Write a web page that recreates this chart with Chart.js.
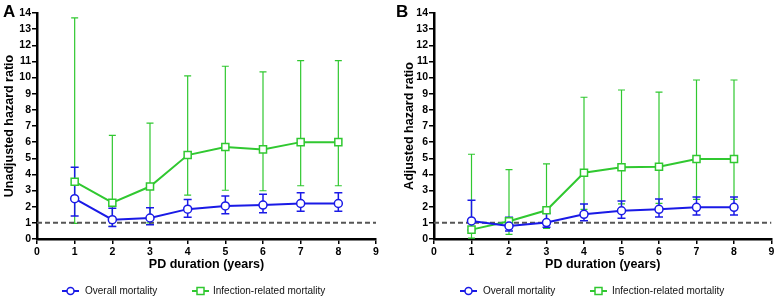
<!DOCTYPE html>
<html><head><meta charset="utf-8">
<script src="https://cdn.jsdelivr.net/npm/chart.js@4.4.1/dist/chart.umd.min.js"></script>
<style>
html,body{margin:0;padding:0;background:#fff;}
body{width:778px;height:298px;position:relative;overflow:hidden;font-family:"Liberation Sans",Arial,sans-serif;}
.panel{position:absolute;top:0;width:389px;height:298px;}
#pa{left:0;}
#pb{left:389px;}
.letter{position:absolute;top:3px;font-weight:bold;font-size:17px;line-height:17px;color:#000;}
.leg{position:absolute;top:285px;font-size:10px;line-height:12px;white-space:nowrap;color:#111;}
.sym{position:absolute;top:286px;}
</style></head>
<body>
<div class="panel"><canvas id="ca" width="389" height="298"></canvas></div>
<div class="panel" id="pb"><canvas id="cb" width="389" height="298"></canvas></div>
<div class="letter" style="left:3px">A</div>
<div class="letter" style="left:396px">B</div>

<svg class="sym" style="left:62px" width="17" height="10"><line x1="0" y1="5" x2="17" y2="5" stroke="#1a1ae6" stroke-width="2"/><circle cx="8.5" cy="5" r="3.5" fill="#fff" stroke="#1a1ae6" stroke-width="1.5"/></svg>
<div class="leg" style="left:85px">Overall mortality</div>
<svg class="sym" style="left:192px" width="17" height="10"><line x1="0" y1="5" x2="17" y2="5" stroke="#30c830" stroke-width="2"/><rect x="5" y="1.5" width="7" height="7" fill="#fff" stroke="#30c830" stroke-width="1.5"/></svg>
<div class="leg" style="left:213px">Infection-related mortality</div>

<svg class="sym" style="left:460px" width="17" height="10"><line x1="0" y1="5" x2="17" y2="5" stroke="#1a1ae6" stroke-width="2"/><circle cx="8.5" cy="5" r="3.5" fill="#fff" stroke="#1a1ae6" stroke-width="1.5"/></svg>
<div class="leg" style="left:483px">Overall mortality</div>
<svg class="sym" style="left:590px" width="17" height="10"><line x1="0" y1="5" x2="17" y2="5" stroke="#30c830" stroke-width="2"/><rect x="5" y="1.5" width="7" height="7" fill="#fff" stroke="#30c830" stroke-width="1.5"/></svg>
<div class="leg" style="left:612px">Infection-related mortality</div>

<script>
// ---- data ----
const years = [1, 2, 3, 4, 5, 6, 7, 8];
const referenceHR = 1;

// Panel A: unadjusted
const overallA    = [2.5, 1.2, 1.3, 1.85, 2.05, 2.1, 2.2, 2.2];
const overallALo  = [1.42, 0.78, 0.88, 1.35, 1.57, 1.63, 1.72, 1.72];
const overallAHi  = [4.45, 1.9, 1.94, 2.45, 2.66, 2.77, 2.87, 2.87];
const infectA     = [3.55, 2.25, 3.25, 5.2, 5.7, 5.55, 6.0, 6.0];
const infectALo   = [0.97, 0.78, 1.0, 2.72, 3.02, 2.99, 3.3, 3.3];
const infectAHi   = [13.7, 6.42, 7.18, 10.1, 10.7, 10.35, 11.05, 11.05];

// Panel B: adjusted
const overallB    = [1.12, 0.8, 1.02, 1.53, 1.75, 1.84, 1.96, 1.96];
const overallBLo  = [0.55, 0.5, 0.73, 1.13, 1.28, 1.36, 1.49, 1.49];
const overallBHi  = [2.4, 1.35, 1.6, 2.17, 2.35, 2.48, 2.6, 2.6];
const infectB     = [0.58, 1.1, 1.78, 4.1, 4.44, 4.48, 4.96, 4.96];
const infectBLo   = [0.05, 0.29, 0.66, 1.84, 2.17, 2.21, 2.46, 2.46];
const infectBHi   = [5.25, 4.3, 4.65, 8.78, 9.23, 9.1, 9.85, 9.85];

const xMin = 0, xMax = 9, yMin = 0, yMax = 14;

const BLUE = '#1a1ae6';
const GREEN = '#30c830';
const FONT = 'Liberation Sans';

const errorBars = {
  id: 'errorBars',
  beforeDatasetsDraw(chart) {
    const ctx = chart.ctx;
    const xs = chart.scales.x, ys = chart.scales.y;
    const order = chart.data.datasets.map((d, i) => i).reverse();
    ctx.save();
    for (const i of order) {
      const ds = chart.data.datasets[i];
      if (!ds.errLo) continue;
      ctx.strokeStyle = ds.borderColor;
      ctx.lineWidth = ds.errWidth;
      ds.data.forEach((p, k) => {
        const px = xs.getPixelForValue(p.x);
        const lo = ys.getPixelForValue(ds.errLo[k]);
        const hi = ys.getPixelForValue(ds.errHi[k]);
        ctx.beginPath();
        ctx.moveTo(px, lo); ctx.lineTo(px, hi);
        ctx.moveTo(px - ds.capHalf, lo); ctx.lineTo(px + ds.capHalf, lo);
        ctx.moveTo(px - ds.capHalf, hi); ctx.lineTo(px + ds.capHalf, hi);
        ctx.stroke();
      });
    }
    ctx.restore();
  }
};

function pts(vals) { return years.map((x, i) => ({ x: x, y: vals[i] })); }

function makePanel(id, yTitle, ov, ovLo, ovHi, inf, infLo, infHi, axisW, titlePad, rightPad) {
  new Chart(document.getElementById(id), {
    type: 'line',
    data: {
      datasets: [
        { label: 'Overall mortality', data: pts(ov), errLo: ovLo, errHi: ovHi, errWidth: 1.5, capHalf: 4,
          borderColor: BLUE, borderWidth: 2, pointStyle: 'circle', pointRadius: 4,
          pointBorderWidth: 1.5, pointBackgroundColor: '#fff', pointBorderColor: BLUE, tension: 0 },
        { label: 'Infection-related mortality', data: pts(inf), errLo: infLo, errHi: infHi, errWidth: 1.2, capHalf: 3.5,
          borderColor: GREEN, borderWidth: 2, pointStyle: 'rect', pointRadius: 5,
          pointBorderWidth: 1.5, pointBackgroundColor: '#fff', pointBorderColor: GREEN, tension: 0 },
        { label: 'ref', data: [{ x: xMin, y: referenceHR }, { x: xMax, y: referenceHR }],
          borderColor: '#555555', borderWidth: 2, borderDash: [5, 3], pointRadius: 0 }
      ]
    },
    options: {
      responsive: false, animation: false, events: [],
      layout: { padding: { top: 13, right: rightPad, left: 0, bottom: 0 } },
      plugins: { legend: { display: false }, tooltip: { enabled: false } },
      scales: {
        x: {
          type: 'linear', min: xMin, max: xMax,
          afterFit(s) { s.height = 59; },
          ticks: { stepSize: 1, autoSkip: false, padding: 2, color: '#000', font: { family: FONT, weight: 'bold', size: 10.5 } },
          grid: { drawOnChartArea: false, drawTicks: true, tickLength: 5, color: '#000', lineWidth: 1.5 },
          border: { display: true, color: '#000', width: 2.5 },
          title: { display: true, text: 'PD duration (years)', color: '#000', padding: { top: 0, bottom: 26 },
                   font: { family: FONT, weight: 'bold', size: 12.5 } }
        },
        y: {
          type: 'linear', min: yMin, max: yMax,
          afterFit(s) { s.width = axisW; },
          ticks: { stepSize: 1, autoSkip: false, padding: 1, color: '#000', font: { family: FONT, weight: 'bold', size: 10.5 } },
          grid: { drawOnChartArea: false, drawTicks: true, tickLength: 5, color: '#000', lineWidth: 1.5 },
          border: { display: true, color: '#000', width: 2.5 },
          title: { display: true, text: yTitle, color: '#000', padding: { top: titlePad, bottom: 0 },
                   font: { family: FONT, weight: 'bold', size: 12.5 } }
        }
      }
    },
    plugins: [errorBars]
  });
}

makePanel('ca', 'Unadjusted hazard ratio', overallA, overallALo, overallAHi, infectA, infectALo, infectAHi, 37, 2.5, 13);
makePanel('cb', 'Adjusted hazard ratio', overallB, overallBLo, overallBHi, infectB, infectBLo, infectBHi, 45, 13.5, 4);
</script>
</body></html>
